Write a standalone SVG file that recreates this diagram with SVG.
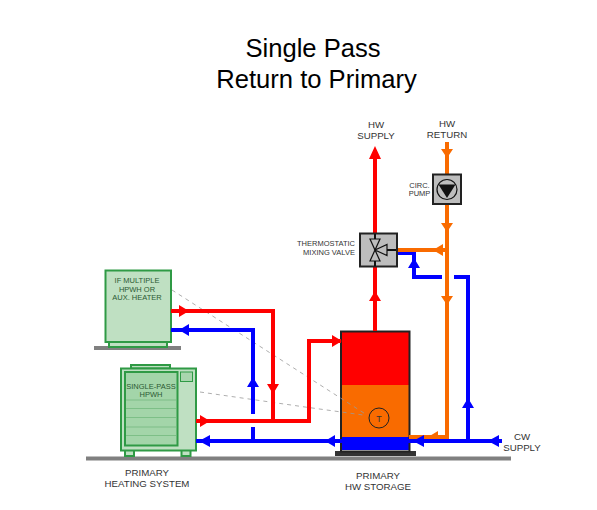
<svg xmlns="http://www.w3.org/2000/svg" width="597" height="510" viewBox="0 0 597 510">
<style>
text{font-family:"Liberation Sans",Arial,sans-serif;fill:#333;text-anchor:middle}
.t{font-size:25.600px;fill:#000}.l{font-size:9.700px}.s{font-size:7.500px}.u{font-size:7.500px;fill:#2b5a33}
.g{fill:#808080}.eq{fill:#bfe0c2;stroke:#2f9a45;stroke-width:2}
.pipe{fill:none;stroke-width:4}.r{stroke:#f00}.b{stroke:#00f}.o{stroke:#f96b00}
.ar{fill:#f00}.ab{fill:#00f}.ao{fill:#f96b00}
.d{fill:none;stroke:#999;stroke-width:.8;stroke-dasharray:4 4}
.box{fill:#bdbdbd;stroke:#222;stroke-width:2}
.v{fill:#bdbdbd;stroke:#111;stroke-width:1.200}
.fin{stroke:#6db679;stroke-width:.7}
</style>
<rect width="597" height="510" fill="#fff"/>
<text class="t" x="313" y="57">Single Pass</text>
<text class="t" x="316.500" y="88">Return to Primary</text>

<g id="grounds">
<rect class="g" x="86" y="456.500" width="425" height="4"/>
<rect class="g" x="94" y="346" width="87" height="4"/>
</g>

<g id="aux-heater">
<rect class="eq" x="109" y="342" width="58" height="5" stroke-width="1"/>
<rect class="eq" x="105.500" y="270.500" width="65.500" height="71.500"/>
<text class="u" x="137" y="283">IF MULTIPLE</text>
<text class="u" x="137" y="291.500">HPWH OR</text>
<text class="u" x="137" y="300">AUX. HEATER</text>
</g>

<g id="hpwh">
<rect class="eq" x="131" y="365" width="39" height="3.500" stroke-width="1"/>
<rect class="eq" x="125" y="450" width="9" height="6" stroke-width="1"/>
<rect class="eq" x="181.500" y="450" width="9" height="6" stroke-width="1"/>
<rect class="eq" x="121" y="368.500" width="75" height="82"/>
<rect x="125" y="372" width="52.500" height="73.500" fill="#a3d5a9" stroke="#2f9a45" stroke-width="2"/>
<path class="fin" d="M126 400H177M126 408.500H177M126 417.500H177M126 427H177M126 435.500H177"/>
<rect x="180.500" y="372" width="12" height="9.500" fill="#a9d6ae" stroke="#2f9a45" stroke-width="1"/>
<text class="u" x="151" y="389">SINGLE-PASS</text>
<text class="u" x="151" y="397">HPWH</text>
</g>

<g id="storage-tank">
<rect x="335" y="451" width="81" height="5" fill="#333"/>
<rect x="341" y="332" width="68" height="54" fill="#f00"/>
<rect x="341" y="385" width="68" height="53" fill="#f96b00"/>
<rect x="341" y="437" width="68" height="13" fill="#00f"/>
<rect x="341" y="331.500" width="68.500" height="120" fill="none" stroke="#222" stroke-width="2"/>
<circle cx="379" cy="418" r="10" fill="none" stroke="#222" stroke-width="1"/>
<text x="379" y="421.500" font-size="9">T</text>
</g>

<g id="connectors">
<path class="d" d="M172 290L367 415M200 392L305 407L363 415"/>
<path class="pipe r" d="M171 311H273V421M196 421H309V341H341M375 331V150"/>
<path class="pipe b" d="M171 330H253V414M253 427V441M196 441H502M468 441V277H454M442 277H414V253H397"/>
<path class="pipe o" d="M447 142V437H409M447 250H397"/>
<g class="ar">
<path d="M179 305L189 311L179 317Z M273 394L267 384H279Z M200 415L210 421L200 427Z M332 335L342 341L332 347Z M375 146L369 159H381Z M375 291L369 301H381Z"/>
</g>
<g class="ab">
<path d="M179 330L189 324V336Z M253 377L247 387H259Z M199 441L210 435V447Z M325 441L335 435V447Z M413 441L424 435V447Z M488 441L499 435V447Z M468 398L462 408H474Z M414 258L408 268H420Z"/>
</g>
<g class="ao">
<path d="M447 158L441 149H453Z M447 232L441 223H453Z M447 305L441 296H453Z M433 250L443 244V256Z M428 437L438 431V438Z"/>
</g>
</g>

<g id="circ-pump">
<rect class="box" x="433" y="174.500" width="28" height="29.500"/>
<circle cx="447" cy="189.500" r="10" fill="none" stroke="#111" stroke-width="1.200"/>
<path d="M438.500 184.500H455.500L447 198Z" fill="#111"/>
<text class="s" x="419.500" y="188">CIRC.</text>
<text class="s" x="419.500" y="196">PUMP</text>
</g>

<g id="mixing-valve">
<rect class="box" x="360" y="233.500" width="37" height="33"/>
<path d="M375 234V240M375 260V266M386 250H396" stroke="#111" stroke-width="2"/>
<path class="v" d="M370 239H380L375 250Z M370 261H380L375 250Z M375 250L387 244.500V255.500Z"/>
<text class="s" x="326" y="246">THERMOSTATIC</text>
<text class="s" x="329" y="255">MIXING VALVE</text>
</g>

<g id="labels">
<text class="l" x="376" y="128">HW</text>
<text class="l" x="376" y="139">SUPPLY</text>
<text class="l" x="447" y="127">HW</text>
<text class="l" x="447" y="138">RETURN</text>
<text class="l" x="522" y="440">CW</text>
<text class="l" x="522" y="451">SUPPLY</text>
<text class="l" x="147" y="476">PRIMARY</text>
<text class="l" x="147" y="487">HEATING SYSTEM</text>
<text class="l" x="378" y="479">PRIMARY</text>
<text class="l" x="378" y="490">HW STORAGE</text>
</g>
</svg>
